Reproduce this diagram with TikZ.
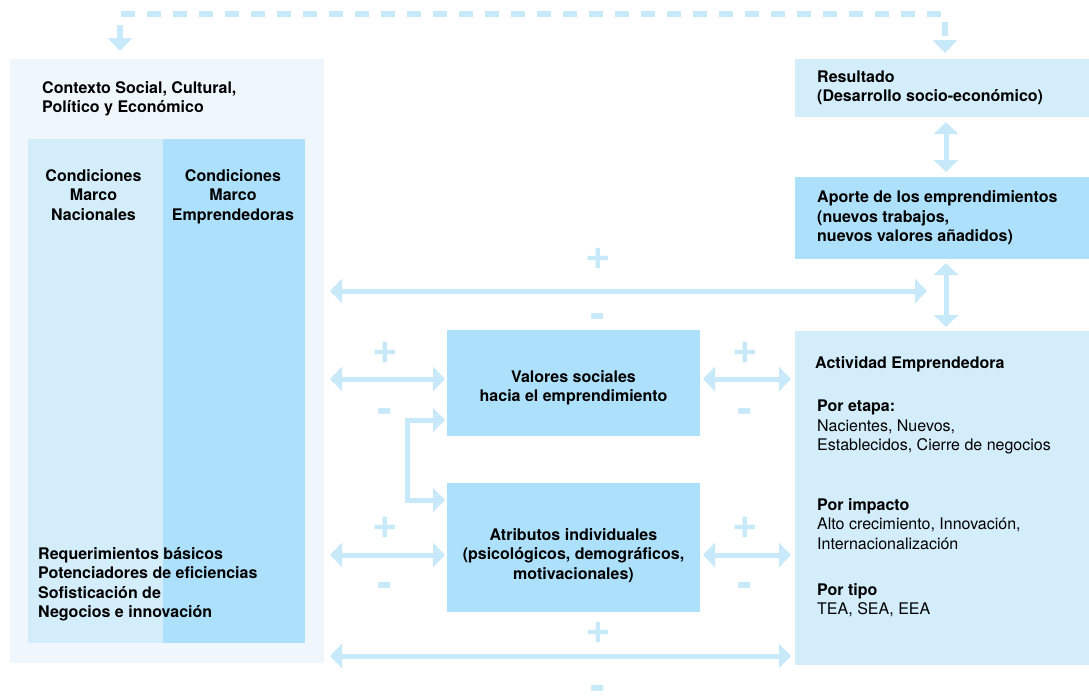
\documentclass[tikz,border=0pt]{standalone}
\usepackage{fontspec}
\setmainfont{TeX Gyre Heros}
\usetikzlibrary{arrows.meta}
\definecolor{ctxblue}{HTML}{EFF7FD}
\definecolor{paleblue}{HTML}{D3EDFA}
\definecolor{skyblue}{HTML}{ADE0FA}
\definecolor{arrowblue}{HTML}{C8E9FA}
\begin{document}
\begin{tikzpicture}
[x=1pt,y=-1pt,
box/.style={inner sep=0pt,outer sep=0pt},
ctxbox/.style={box,fill=ctxblue},
palebox/.style={box,fill=paleblue},
skybox/.style={box,fill=skyblue},
bold/.style={font=\bfseries\fontsize{16}{19.5}\selectfont,inner sep=0pt},
plain/.style={font=\fontsize{16}{19.5}\selectfont,inner sep=0pt,align=left},
tip/.tip={Triangle[width=24pt,length=12pt]},
biarrow/.style={draw=arrowblue,line width=5pt,tip-tip},
dasharrow/.style={draw=arrowblue,line width=6pt,dash pattern=on 14pt off 12pt,
  {Triangle[width=24pt,length=13pt]}-{Triangle[width=24pt,length=13pt]}},
sign/.style={text=arrowblue,font=\bfseries\fontsize{44}{44}\selectfont,inner sep=0pt}]
	\useasboundingbox (0,0) rectangle (1089,697);
	% left block
	\node[ctxbox,minimum width=314,minimum height=604] (ctx) at (167,361) {};
	\node[palebox,minimum width=135,minimum height=504] (nac) at (95.5,391) {};
	\node[skybox,minimum width=142,minimum height=504] (emp) at (234,391) {};
	\node[bold,align=left,anchor=north west] (ctxtext) at (42,81) {Contexto Social, Cultural,\\Político y Económico};
	\node[bold,align=center,anchor=north] (nactext) at ([xshift=-2pt,yshift=-30pt]nac.north) {Condiciones\\Marco\\Nacionales};
	\node[bold,align=center,anchor=north] (emptext) at ([xshift=-1pt,yshift=-30pt]emp.north) {Condiciones\\Marco\\Emprendedoras};
	\node[bold,align=left,anchor=north west] (reqtext) at (38,547) {Requerimientos básicos\\Potenciadores de eficiencias\\Sofisticación de\\Negocios e innovación};
	% right column
	\node[palebox,minimum width=294,minimum height=58] (resultado) at (942,88) {};
	\node[skybox,minimum width=294,minimum height=82] (aporte) at (942,218) {};
	\node[palebox,minimum width=294,minimum height=334] (actividad) at (942,498) {};
	\node[bold,align=left,anchor=west] (restext) at ([xshift=22pt]resultado.west) {Resultado\\(Desarrollo socio-económico)};
	\node[bold,align=left,anchor=west] (aptext) at ([xshift=22pt]aporte.west) {Aporte de los emprendimientos\\(nuevos trabajos,\\nuevos valores añadidos)};
	\node[bold,anchor=north west] (acttext) at (815,356) {Actividad Emprendedora};
	\node[plain,anchor=north west] (etapa) at (817,400) {\textbf{Por etapa:}\\Nacientes, Nuevos,\\Establecidos, Cierre de negocios};
	\node[plain,anchor=north west] (impacto) at (817,498) {\textbf{Por impacto}\\Alto crecimiento, Innovación,\\Internacionalización};
	\node[plain,anchor=north west] (tipo) at (817,583) {\textbf{Por tipo}\\TEA, SEA, EEA};
	% middle
	\node[skybox,minimum width=253,minimum height=106] (valores) at (573.5,383) {};
	\node[skybox,minimum width=253,minimum height=129] (atributos) at (573.5,547.5) {};
	\node[bold,align=center] (valtext) at ([yshift=-5pt]valores) {Valores sociales\\hacia el emprendimiento};
	\node[bold,align=center] (atrtext) at ([yshift=-8pt]atributos) {Atributos individuales\\(psicológicos, demográficos,\\motivacionales)};
	% connectors
	\coordinate (hub) at (946,291);
	\draw[biarrow,shorten <=6pt,shorten >=19pt] (ctx.east |- hub) -- (hub);
	\draw[biarrow,shorten <=6pt,shorten >=2pt] ([yshift=4pt]ctx.east |- valores.west) -- ([yshift=4pt]valores.west);
	\draw[biarrow,shorten <=3pt,shorten >=4pt] ([yshift=4pt]valores.east) -- ([yshift=4pt]valores.east -| actividad.west);
	\draw[biarrow,shorten <=6pt,shorten >=2pt] ([yshift=-7.5pt]ctx.east |- atributos.west) -- ([yshift=-7.5pt]atributos.west);
	\draw[biarrow,shorten <=3pt,shorten >=4pt] ([yshift=-7.5pt]atributos.east) -- ([yshift=-7.5pt]atributos.east -| actividad.west);
	\draw[biarrow,shorten <=6pt,shorten >=4pt] ([yshift=7pt]ctx.south east) -- ([yshift=7pt]ctx.south east -| actividad.west);
	\draw[biarrow,shorten <=2pt,shorten >=2pt] ([yshift=-37pt]valores.west) -- ++(-40,0) |- ([yshift=47.5pt]atributos.west);
	\draw[biarrow,shorten <=5pt,shorten >=5pt] ([xshift=4pt]resultado.south) -- ([xshift=4pt]aporte.north);
	\draw[biarrow,shorten <=4pt,shorten >=4pt] ([xshift=4pt]aporte.south) -- ([xshift=4pt]actividad.north);
	\draw[dasharrow] ([xshift=110pt,yshift=8pt]ctx.north west) -- ++(0,-37) -| ([xshift=3pt,yshift=6pt]resultado.north);
	% signs
	\foreach \x/\y [count=\i] in {598/259,385/353,745/353,385/528,745/528,598/633}
		\node[sign] (plus\i) at (\x,\y) {+};
	\foreach \x/\y [count=\i] in {598/321,385/416,745/416,385/590,745/590,598/693}
		\node[sign] (minus\i) at (\x,\y) {-};
\end{tikzpicture}
\end{document}
